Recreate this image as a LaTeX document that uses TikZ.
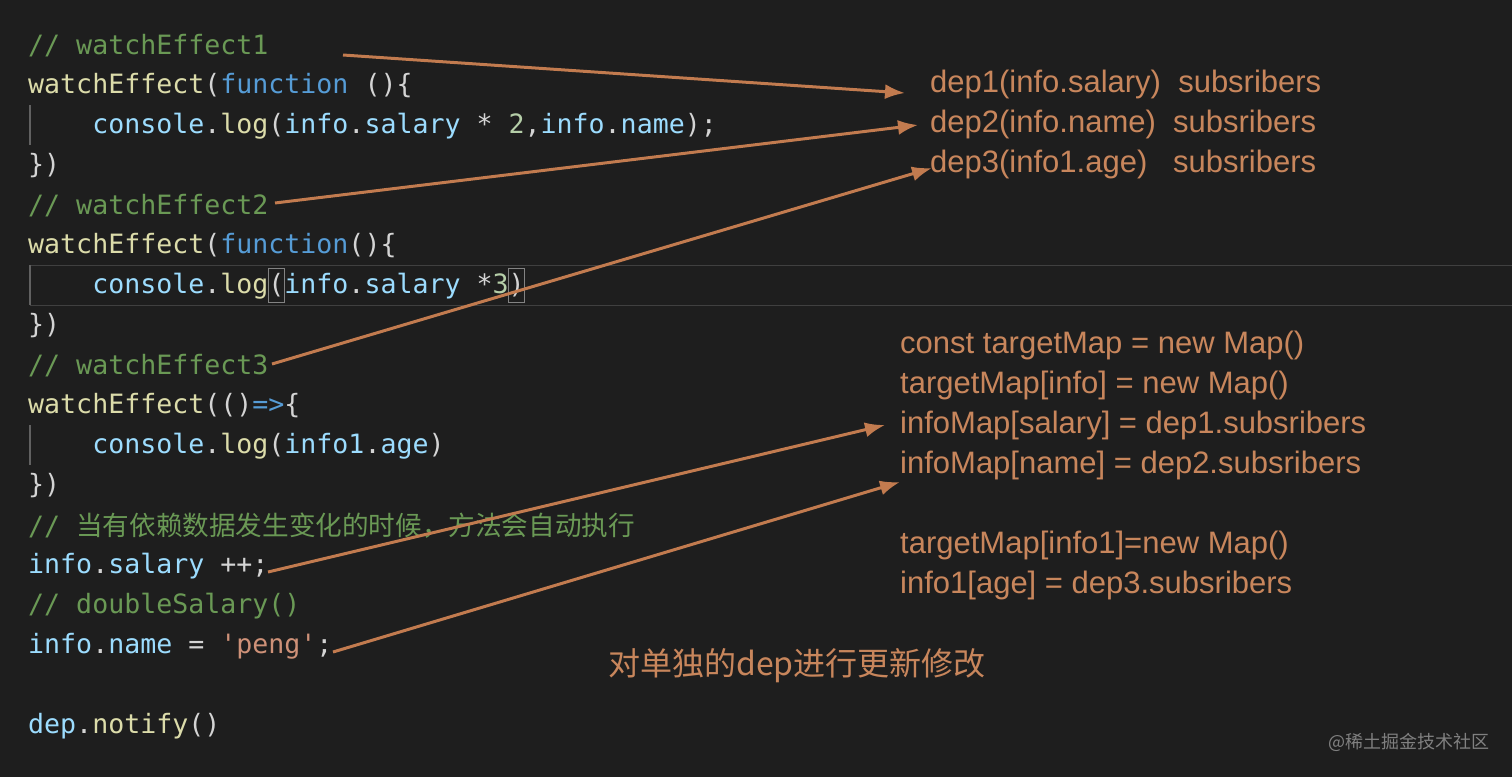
\documentclass[tikz,border=0pt]{standalone}
\usepackage{fontspec}
\usepackage{xcolor}
\usetikzlibrary{arrows.meta}
\setmonofont{DejaVu Sans Mono}
\setsansfont{Liberation Sans}
\newfontfamily\cjk{Noto Sans CJK SC}
\definecolor{bgc}{HTML}{1E1E1E}
\definecolor{fnc}{HTML}{DCDCAA}
\definecolor{kwc}{HTML}{569CD6}
\definecolor{vrc}{HTML}{9CDCFE}
\definecolor{txc}{HTML}{D4D4D4}
\definecolor{cmc}{HTML}{6A9955}
\definecolor{nmc}{HTML}{B5CEA8}
\definecolor{stc}{HTML}{CE9178}
\definecolor{anc}{HTML}{C8865C}
\definecolor{arc}{HTML}{C27B4F}
\newcommand{\cfn}[1]{\textcolor{fnc}{#1}}
\newcommand{\ckw}[1]{\textcolor{kwc}{#1}}
\newcommand{\cvr}[1]{\textcolor{vrc}{#1}}
\newcommand{\cnm}[1]{\textcolor{nmc}{#1}}
\begin{document}
\begin{tikzpicture}[x=1pt,y=-1pt,
  codeline/.style={anchor=west,inner sep=0pt,text=txc,font=\fontsize{26.6}{30}\ttfamily},
  note/.style={anchor=west,inner sep=0pt,text=anc,font=\fontsize{31}{34}\sffamily},
  link/.style={draw=arc,line width=3pt,-{Latex[length=20pt,width=15pt]}}]
\fill[bgc] (0,0) rectangle (1512,777);
\useasboundingbox (0,0) rectangle (1512,777);

% current line highlight
\draw[white!15!bgc,line width=1pt] (30,265) -- (1512,265) (30,305) -- (1512,305);
% indent guides
\draw[white!30!bgc,line width=1.5pt] (30,105) -- (30,145) (30,265) -- (30,305) (30,425) -- (30,465);
% bracket match boxes
\draw[white!45!bgc,line width=1pt] (268,268) rectangle (284,302) (508,268) rectangle (524,302);

% code
\node[codeline,text=cmc] (c1) at (28,46) {// watchEffect1};
\node[codeline] (c2) at (28,86) {\cfn{watchEffect}(\ckw{function} ()\{};
\node[codeline] (c3) at (28,126) {\phantom{xxxx}\cvr{console}.\cfn{log}(\cvr{info}.\cvr{salary} * \cnm{2},\cvr{info}.\cvr{name});};
\node[codeline] (c4) at (28,166) {\})};
\node[codeline,text=cmc] (c5) at (28,206) {// watchEffect2};
\node[codeline] (c6) at (28,246) {\cfn{watchEffect}(\ckw{function}()\{};
\node[codeline] (c7) at (28,286) {\phantom{xxxx}\cvr{console}.\cfn{log}(\cvr{info}.\cvr{salary} *\cnm{3})};
\node[codeline] (c8) at (28,326) {\})};
\node[codeline,text=cmc] (c9) at (28,366) {// watchEffect3};
\node[codeline] (c10) at (28,406) {\cfn{watchEffect}(()\ckw{=>}\{};
\node[codeline] (c11) at (28,446) {\phantom{xxxx}\cvr{console}.\cfn{log}(\cvr{info1}.\cvr{age})};
\node[codeline] (c12) at (28,486) {\})};
\node[codeline,text=cmc] (c13) at (28,526) {// {\cjk 当有依赖数据发生变化的时候，方法会自动执行}};
\node[codeline] (c14) at (28,566) {\cvr{info}.\cvr{salary} ++;};
\node[codeline,text=cmc] (c15) at (28,606) {// doubleSalary()};
\node[codeline] (c16) at (28,646) {\cvr{info}.\cvr{name} = \textcolor{stc}{'peng'};};
\node[codeline] (c17) at (28,726) {\cvr{dep}.\cfn{notify}()};

% notes
\node[note] (d1) at (930,84) {dep1(info.salary)\ \ subsribers};
\node[note] (d2) at (930,124) {dep2(info.name)\ \ subsribers};
\node[note] (d3) at (930,164) {dep3(info1.age)\ \ \ subsribers};
\node[note] (m1) at (900,345) {const targetMap = new Map()};
\node[note] (m2) at (900,385) {targetMap[info] = new Map()};
\node[note] (m3) at (900,425) {infoMap[salary] = dep1.subsribers};
\node[note] (m4) at (900,465) {infoMap[name] = dep2.subsribers};
\node[note] (m5) at (900,545) {targetMap[info1]=new Map()};
\node[note] (m6) at (900,585) {info1[age] = dep3.subsribers};
\node[note,font=\fontsize{32}{34}\cjk] (t1) at (608,666) {对单独的dep进行更新修改};
\node[anchor=east,inner sep=0pt,text=gray,font=\fontsize{18}{20}\cjk] (w1) at (1490,742) {@稀土掘金技术社区};

% arrows
\coordinate (s1) at (343,55);
\coordinate (s2) at (275,203);
\coordinate (s3) at (272,364);
\coordinate (s4) at (268,572);
\coordinate (s5) at (333,652);
\coordinate (e1) at (905,93);
\coordinate (e2) at (918,125);
\coordinate (e3) at (932,168);
\coordinate (e4) at (885,425);
\coordinate (e5) at (900,482);
\draw[link] (s1) -- (e1);
\draw[link] (s2) -- (e2);
\draw[link] (s3) -- (e3);
\draw[link] (s4) -- (e4);
\draw[link] (s5) -- (e5);
\end{tikzpicture}
\end{document}
